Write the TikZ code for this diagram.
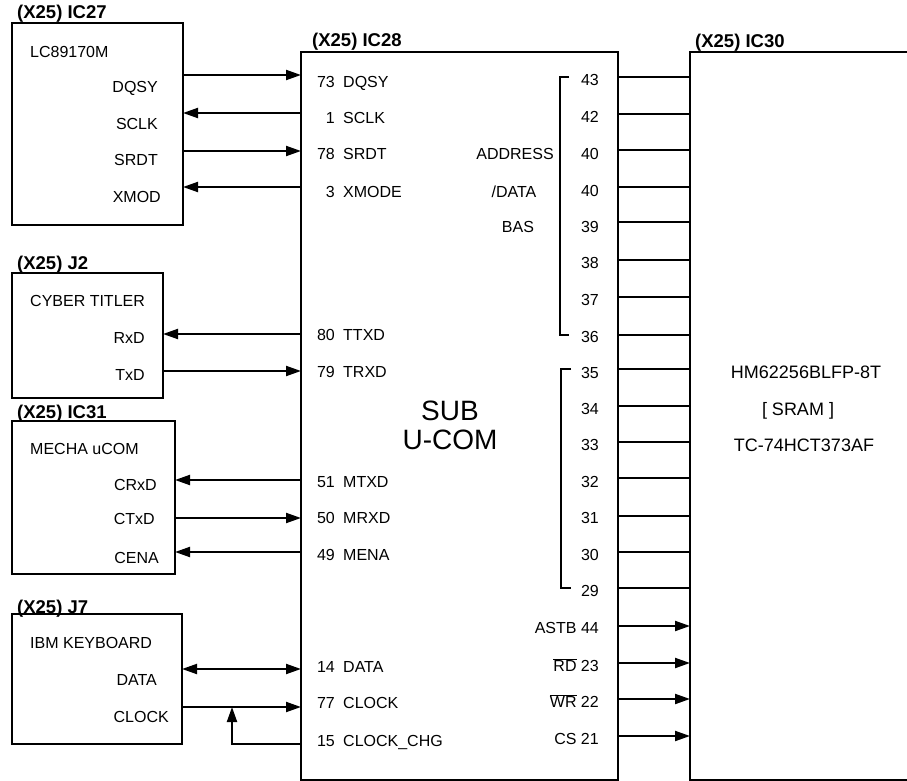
\documentclass[tikz,border=0pt]{standalone}
\usepackage{fontspec}
\setmainfont{Liberation Sans}
\usetikzlibrary{arrows.meta}
\tikzset{
  box/.style={draw, line width=2pt, outer sep=0pt, inner sep=0pt, anchor=north west},
  wire/.style={line width=2pt},
  arr/.style={wire, -{Triangle[length=15pt,width=10pt]}},
  darr/.style={wire, {Triangle[length=15pt,width=10pt]}-{Triangle[length=15pt,width=10pt]}},
  brk/.style={line width=1.3pt},
  t16/.style={font=\fontsize{16}{18}\selectfont, inner sep=0pt, text height=11.5pt, text depth=0pt},
  t18/.style={font=\fontsize{18}{20}\selectfont, inner sep=0pt, text height=12.9pt, text depth=0pt},
  t28/.style={font=\fontsize{28}{30}\selectfont, inner sep=0pt, text height=20pt, text depth=0pt},
  ttl/.style={font=\bfseries\fontsize{18.5}{20}\selectfont, inner sep=0pt, text height=13.2pt, text depth=0pt, anchor=west},
}
\begin{document}
\begin{tikzpicture}[x=1pt,y=-1pt]
\path[use as bounding box] (0,0) rectangle (907,781);
\clip (0,0) rectangle (907,781);
% boxes
\node[box, minimum width=171pt, minimum height=202pt] (ic27) at (12,23) {};
\node[box, minimum width=317pt, minimum height=728pt] (ic28) at (301,52) {};
\node[box, minimum width=260pt, minimum height=728pt] (ic30) at (690,52) {};
\node[box, minimum width=151pt, minimum height=125pt] (j2) at (12,273) {};
\node[box, minimum width=163pt, minimum height=153pt] (ic31) at (12,421) {};
\node[box, minimum width=170pt, minimum height=130pt] (j7) at (12,614) {};
% titles
\node[ttl] (tic27) at (17,12) {(X25) IC27};
\node[ttl] (tic28) at (312,40) {(X25) IC28};
\node[ttl] (tic30) at (695,41) {(X25) IC30};
\node[ttl] (tj2) at (17,263) {(X25) J2};
\node[ttl] (tic31) at (17,412) {(X25) IC31};
\node[ttl] (tj7) at (17,607) {(X25) J7};
% peripheral texts
\node[t16, anchor=west] (n27) at (30,52) {LC89170M};
\node[t16, anchor=east] (p27a) at (158,87) {DQSY};
\node[t16, anchor=east] (p27b) at (158,124) {SCLK};
\node[t16, anchor=east] (p27c) at (158,160) {SRDT};
\node[t16, anchor=east] (p27d) at (161,197) {XMOD};
\node[t16, anchor=west] (nj2) at (30,301) {CYBER TITLER};
\node[t16, anchor=east] (pj2a) at (145,338) {RxD};
\node[t16, anchor=east] (pj2b) at (145,375) {TxD};
\node[t16, anchor=west] (n31) at (30,449) {MECHA uCOM};
\node[t16, anchor=east] (p31a) at (157,485) {CRxD};
\node[t16, anchor=east] (p31b) at (155,519) {CTxD};
\node[t16, anchor=east] (p31c) at (159,558) {CENA};
\node[t16, anchor=west] (nj7) at (30,643) {IBM KEYBOARD};
\node[t16, anchor=east] (pj7a) at (157,680) {DATA};
\node[t16, anchor=east] (pj7b) at (169,717) {CLOCK};
% IC28 left pins
\foreach \n/\s/\y [count=\i] in {73/DQSY/82, 1/SCLK/118, 78/SRDT/154, 3/XMODE/192, 80/TTXD/335, 79/TRXD/372, 51/MTXD/482, 50/MRXD/518, 49/MENA/555, 14/DATA/667, 77/CLOCK/703, 15/CLOCK\_CHG/741}{
  \node[t16, anchor=east] (ln\i) at (335,\y) {\n};
  \node[t16, anchor=west] (ls\i) at (343,\y) {\s};
}
% IC28 right pins
\foreach \n/\y [count=\i] in {43/80, 42/117, 40/154, 40/191, 39/227, 38/263, 37/300, 36/337, 35/373, 34/409, 33/445, 32/482, 31/518, 30/555, 29/591}{
  \node[t16, anchor=east] (rn\i) at (599,\y) {\n};
}
\node[t16, anchor=east] (rastb) at (599,628) {ASTB 44};
\node[t16, anchor=east] (rrd) at (599,666) {$\overline{\mbox{RD}}$ 23};
\node[t16, anchor=east] (rwr) at (599,702) {$\overline{\mbox{WR}}$ 22};
\node[t16, anchor=east] (rcs) at (599,739) {CS 21};
\node[t16] (addr) at (515,154) {ADDRESS};
\node[t16] (data) at (514,192) {/DATA};
\node[t16] (bas) at (518,227) {BAS};
% brackets
\draw[brk] (569,77) -- (560,77) -- (560,335) -- (569,335);
\draw[brk] (571,369) -- (561,369) -- (561,588) -- (571,588);
% center text
\node[t28] (sub) at (450,410) {SUB};
\node[t28] (ucom) at (450,439) {U-COM};
% IC30 texts
\node[t18] (hm) at (806,372) {HM62256BLFP-8T};
\node[t18] (sram) at (798,409) {[ SRAM ]};
\node[t18] (tc) at (804,445) {TC-74HCT373AF};
% left connectors
\draw[arr] (ic27.east |- 0,75) -- (ic28.west |- 0,75);
\draw[arr] (ic28.west |- 0,113) -- (ic27.east |- 0,113);
\draw[arr] (ic27.east |- 0,151) -- (ic28.west |- 0,151);
\draw[arr] (ic28.west |- 0,187) -- (ic27.east |- 0,187);
\draw[arr] (ic28.west |- 0,334) -- (j2.east |- 0,334);
\draw[arr] (j2.east |- 0,371) -- (ic28.west |- 0,371);
\draw[arr] (ic28.west |- 0,480) -- (ic31.east |- 0,480);
\draw[arr] (ic31.east |- 0,518) -- (ic28.west |- 0,518);
\draw[arr] (ic28.west |- 0,552) -- (ic31.east |- 0,552);
\draw[darr] (j7.east |- 0,669) -- (ic28.west |- 0,669);
\draw[arr] (j7.east |- 0,707) -- (ic28.west |- 0,707);
\coordinate (fbtop) at (232,707);
\draw[arr] (ic28.west |- 0,744) -| (fbtop);
% right connectors
\foreach \y in {77,114,150,187,222,260,297,335,369,406,442,478,516,552,588}{
  \draw[wire] (ic28.east |- 0,\y) -- (ic30.west |- 0,\y);
}
\foreach \y in {626,663,699,736}{
  \draw[arr] (ic28.east |- 0,\y) -- (ic30.west |- 0,\y);
}
\end{tikzpicture}
\end{document}
